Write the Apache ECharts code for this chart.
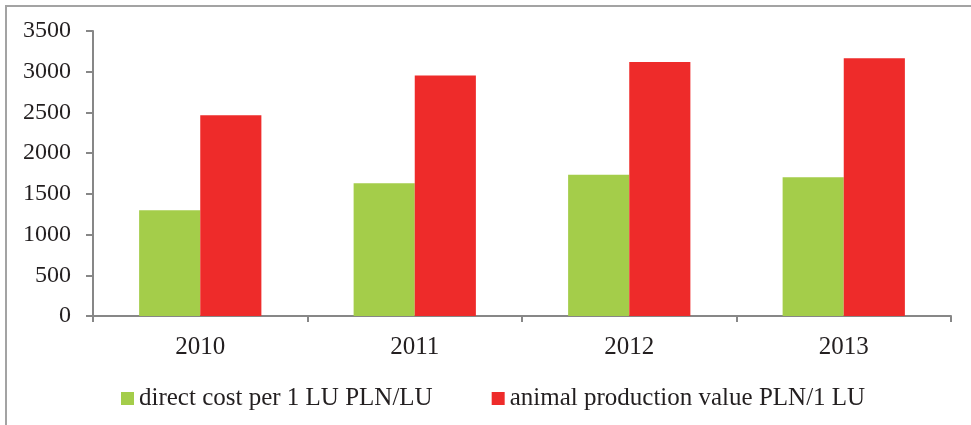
<!DOCTYPE html>
<html>
<head>
<meta charset="utf-8">
<script src="https://cdn.jsdelivr.net/npm/echarts@6/dist/echarts.min.js"></script>
<style>
  html, body { margin: 0; padding: 0; background: #fff; }
  #chart { width: 971px; height: 425px; }
</style>
</head>
<body>
<div id="chart"></div>
<script>
// data
const years = ['2010', '2011', '2012', '2013'];
const directCost = [1300, 1630, 1735, 1705];
const productionValue = [2465, 2955, 3120, 3165];
const yTicks = { min: 0, max: 3500, step: 500 };

const colors = ['#A4CD4A', '#EE2B2A'];
const axisGray = '#878787';
const font = '"Liberation Serif", "DejaVu Serif", serif';

const myChart = echarts.init(document.getElementById('chart'));

const option = {
  color: colors,
  animation: false,
  textStyle: { fontFamily: font },
  graphic: [
    {
      type: 'rect',
      shape: { x: 6, y: 6, width: 990, height: 440 },
      style: { fill: 'none', stroke: '#A3A3A3', lineWidth: 2 },
      silent: true
    }
  ],
  grid: { left: 93, right: 20, top: 31, bottom: 109 },
  legend: {
    left: 116,
    top: 381,
    itemWidth: 13,
    itemHeight: 13,
    itemGap: 59,
    icon: 'rect',
    textStyle: { fontFamily: font, fontSize: 25, color: '#231F20' },
    data: ['direct cost per 1 LU PLN/LU', 'animal production value PLN/1 LU']
  },
  xAxis: {
    type: 'category',
    data: years,
    axisLine: { lineStyle: { color: axisGray, width: 2 } },
    axisTick: { show: true, length: 6, lineStyle: { color: axisGray, width: 2 } },
    axisLabel: { fontFamily: font, fontSize: 25, color: '#231F20', margin: 19 }
  },
  yAxis: {
    type: 'value',
    min: yTicks.min,
    max: yTicks.max,
    interval: yTicks.step,
    axisLine: { show: true, lineStyle: { color: axisGray, width: 2 } },
    axisTick: { show: true, length: 7, lineStyle: { color: axisGray, width: 2 } },
    splitLine: { show: false },
    axisLabel: {
      fontFamily: font, fontSize: 24, color: '#231F20', margin: 22,
      formatter: (v) => String(v)
    }
  },
  series: [
    {
      name: 'direct cost per 1 LU PLN/LU',
      type: 'bar',
      data: directCost,
      barWidth: '28.5%',
      barGap: '0%'
    },
    {
      name: 'animal production value PLN/1 LU',
      type: 'bar',
      data: productionValue,
      barWidth: '28.5%',
      barGap: '0%'
    }
  ]
};

myChart.setOption(option);
</script>
</body>
</html>
